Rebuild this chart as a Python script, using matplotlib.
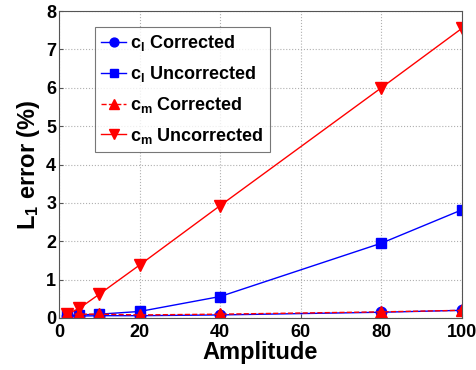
import matplotlib
matplotlib.use("Agg")
import matplotlib.pyplot as plt

plt.rcParams['font.family'] = ['Liberation Sans', 'DejaVu Sans']
plt.rcParams['mathtext.fontset'] = 'custom'
plt.rcParams['mathtext.rm'] = 'Liberation Sans:bold'
plt.rcParams['mathtext.bf'] = 'Liberation Sans:bold'
plt.rcParams['mathtext.it'] = 'Liberation Sans:bold'

amplitude = [2, 5, 10, 20, 40, 80, 100]
cl_corrected = [0.05, 0.05, 0.06, 0.06, 0.08, 0.15, 0.20]
cl_uncorrected = [0.07, 0.08, 0.10, 0.17, 0.56, 1.95, 2.82]
cm_corrected = [0.10, 0.10, 0.10, 0.08, 0.10, 0.16, 0.20]
cm_uncorrected = [0.10, 0.25, 0.62, 1.38, 2.93, 6.00, 7.55]

labels = [r'c$_\mathregular{l}$ Corrected', r'c$_\mathregular{l}$ Uncorrected',
          r'c$_\mathregular{m}$ Corrected', r'c$_\mathregular{m}$ Uncorrected']

fig = plt.figure(figsize=(4.76, 3.70), dpi=100)
ax = fig.add_axes([59/476, 1-318/370, (462-59)/476, (318-11)/370])

ax.plot(amplitude, cl_corrected, '-', color='blue', marker='o', ms=7.5, lw=1, label=labels[0])
ax.plot(amplitude, cl_uncorrected, '-', color='blue', marker='s', ms=7, lw=1, label=labels[1])
ax.plot(amplitude, cm_corrected, '--', color='red', marker='^', ms=9, lw=1, label=labels[2])
ax.plot(amplitude, cm_uncorrected, '-', color='red', marker='v', ms=9, lw=1, label=labels[3])

ax.set_xlim(0, 100)
ax.set_ylim(0, 8)
ax.set_xticks([0, 20, 40, 60, 80, 100])
ax.set_yticks(range(0, 9))
ax.grid(True, linestyle=':', color='#b0b0b0', lw=0.8)
for s in ax.spines.values():
    s.set_color('#555555')
ax.tick_params(direction='in', length=3, labelsize=13, color='#555555')
ax.tick_params(axis='x', pad=4)
ax.tick_params(axis='y', pad=2)
for t in ax.get_xticklabels() + ax.get_yticklabels():
    t.set_fontweight('bold')
ax.set_xlabel('Amplitude', fontsize=17, fontweight='bold', labelpad=0)
ax.set_ylabel(r'L$_\mathregular{1}$ error (%)', fontsize=17, fontweight='bold', labelpad=3)

leg = ax.legend(loc='upper left', bbox_to_anchor=(0.089, 0.948),
                prop={'weight': 'bold', 'size': 13}, fancybox=False, edgecolor='#555555',
                handlelength=1.4, handletextpad=0.2, labelspacing=0.6, borderpad=0.35,
                markerscale=0.85, borderaxespad=0)
leg.get_frame().set_linewidth(0.8)

fig.savefig('out.png', dpi=100)
